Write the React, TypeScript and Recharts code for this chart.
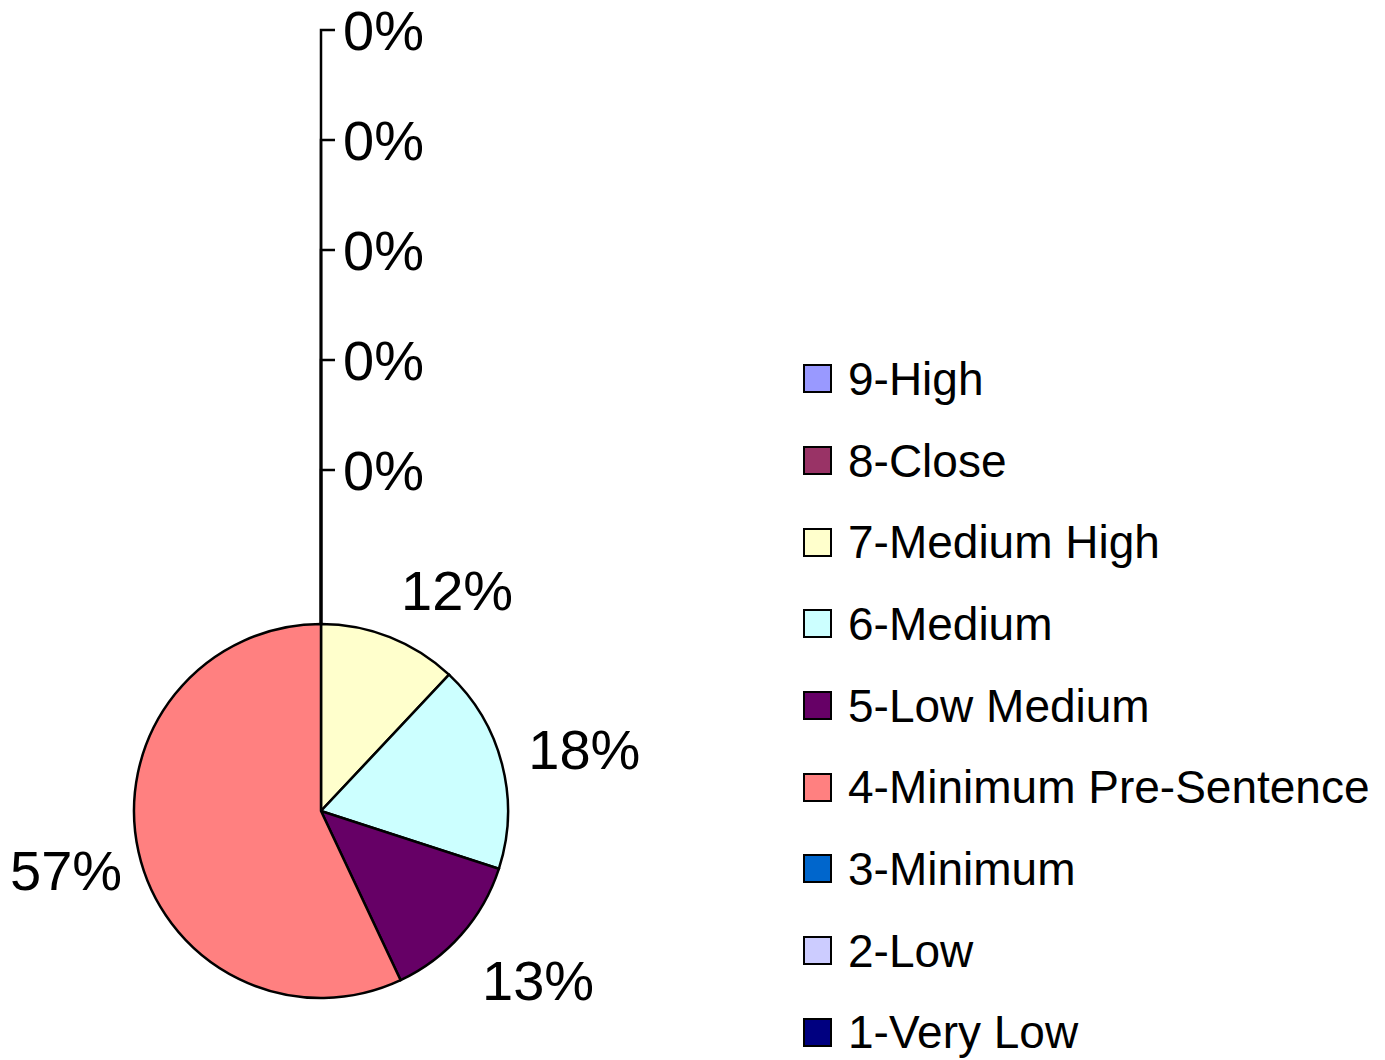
import React from 'react';
import { PieChart, Pie, Cell, Legend } from 'recharts';

// Excel-style pie, slices in legend order starting at 12 o'clock
const categories = [
  '9-High',
  '8-Close',
  '7-Medium High',
  '6-Medium',
  '5-Low Medium',
  '4-Minimum Pre-Sentence',
  '3-Minimum',
  '2-Low',
  '1-Very Low',
];
const shares = [0, 0, 12, 18, 13, 57, 0, 0, 0];
const colors = ['#9999FF', '#993366', '#FFFFCC', '#CCFFFF', '#660066', '#FF8080', '#0066CC', '#CCCCFF', '#000080'];

const data = categories.map((name, i) => ({ name, value: shares[i] }));
const zeroIdx = shares.map((v, i) => (v === 0 ? i : -1)).filter((i) => i >= 0);

const FONT = '"Liberation Sans", Arial, sans-serif';
const LABEL_SIZE = 56;

const renderLabel = (props: any) => {
  const { cx, cy, midAngle, outerRadius, value, index } = props;
  const text = `${Math.round(value)}%`;
  if (value === 0) {
    // zero slices get stacked above the pie on one leader line
    const rank = zeroIdx.indexOf(index);
    const top = cy - outerRadius;
    const y = top - 154 - rank * 110;
    return (
      <g key={`lbl-${index}`}>
        <path d={`M${cx},${top} L${cx},${y} L${cx + 14},${y}`} fill="none" stroke="#000" strokeWidth={2.5} />
        <text x={cx + 22} y={y + 20} fontSize={LABEL_SIZE} fontFamily={FONT} fill="#000">
          {text}
        </text>
      </g>
    );
  }
  // outside-end placement: box edge touches a point just outside the rim
  const r = outerRadius + 25;
  const rad = (midAngle * Math.PI) / 180;
  const cos = Math.cos(rad);
  const sin = Math.sin(rad);
  const px = cx + r * cos + (cos < 0 ? 8 : 2);
  const py = cy - r * sin;
  const shift = Math.max(-1, Math.min(1, sin * 1.5));
  const centerY = py - 24 * shift + (sin < 0 ? 5 : 0);
  return (
    <text
      key={`lbl-${index}`}
      x={px}
      y={centerY + 20}
      textAnchor={cos >= 0 ? 'start' : 'end'}
      fontSize={LABEL_SIZE}
      fontFamily={FONT}
      fill="#000"
    >
      {text}
    </text>
  );
};

const LegendList = () => (
  <div style={{ fontFamily: FONT, fontSize: 46, color: '#000' }}>
    {data.map((d, i) => (
      <div key={d.name} style={{ display: 'flex', alignItems: 'center', height: 81.7, whiteSpace: 'nowrap' }}>
        <span
          style={{
            display: 'inline-block',
            width: 25,
            height: 25,
            background: colors[i],
            border: '2px solid #000',
            marginRight: 16,
          }}
        />
        <span>{d.name}</span>
      </div>
    ))}
  </div>
);

export default function App() {
  return (
    <div style={{ position: 'absolute', left: 0, top: 0, background: '#fff' }}>
      <PieChart width={1385} height={1060} margin={{ top: 0, right: 0, bottom: 0, left: 0 }}>
        <Pie
          data={data}
          dataKey="value"
          nameKey="name"
          cx={321}
          cy={811}
          outerRadius={187}
          startAngle={90}
          endAngle={-270}
          stroke="#000"
          strokeWidth={2.5}
          label={renderLabel}
          labelLine={false}
          isAnimationActive={false}
        >
          {data.map((d, i) => (
            <Cell key={d.name} fill={colors[i]} />
          ))}
        </Pie>
        <Legend
          layout="vertical"
          verticalAlign="middle"
          align="right"
          content={() => <LegendList />}
          wrapperStyle={{ position: 'absolute', left: 803, top: 338, width: 580 }}
        />
      </PieChart>
    </div>
  );
}
